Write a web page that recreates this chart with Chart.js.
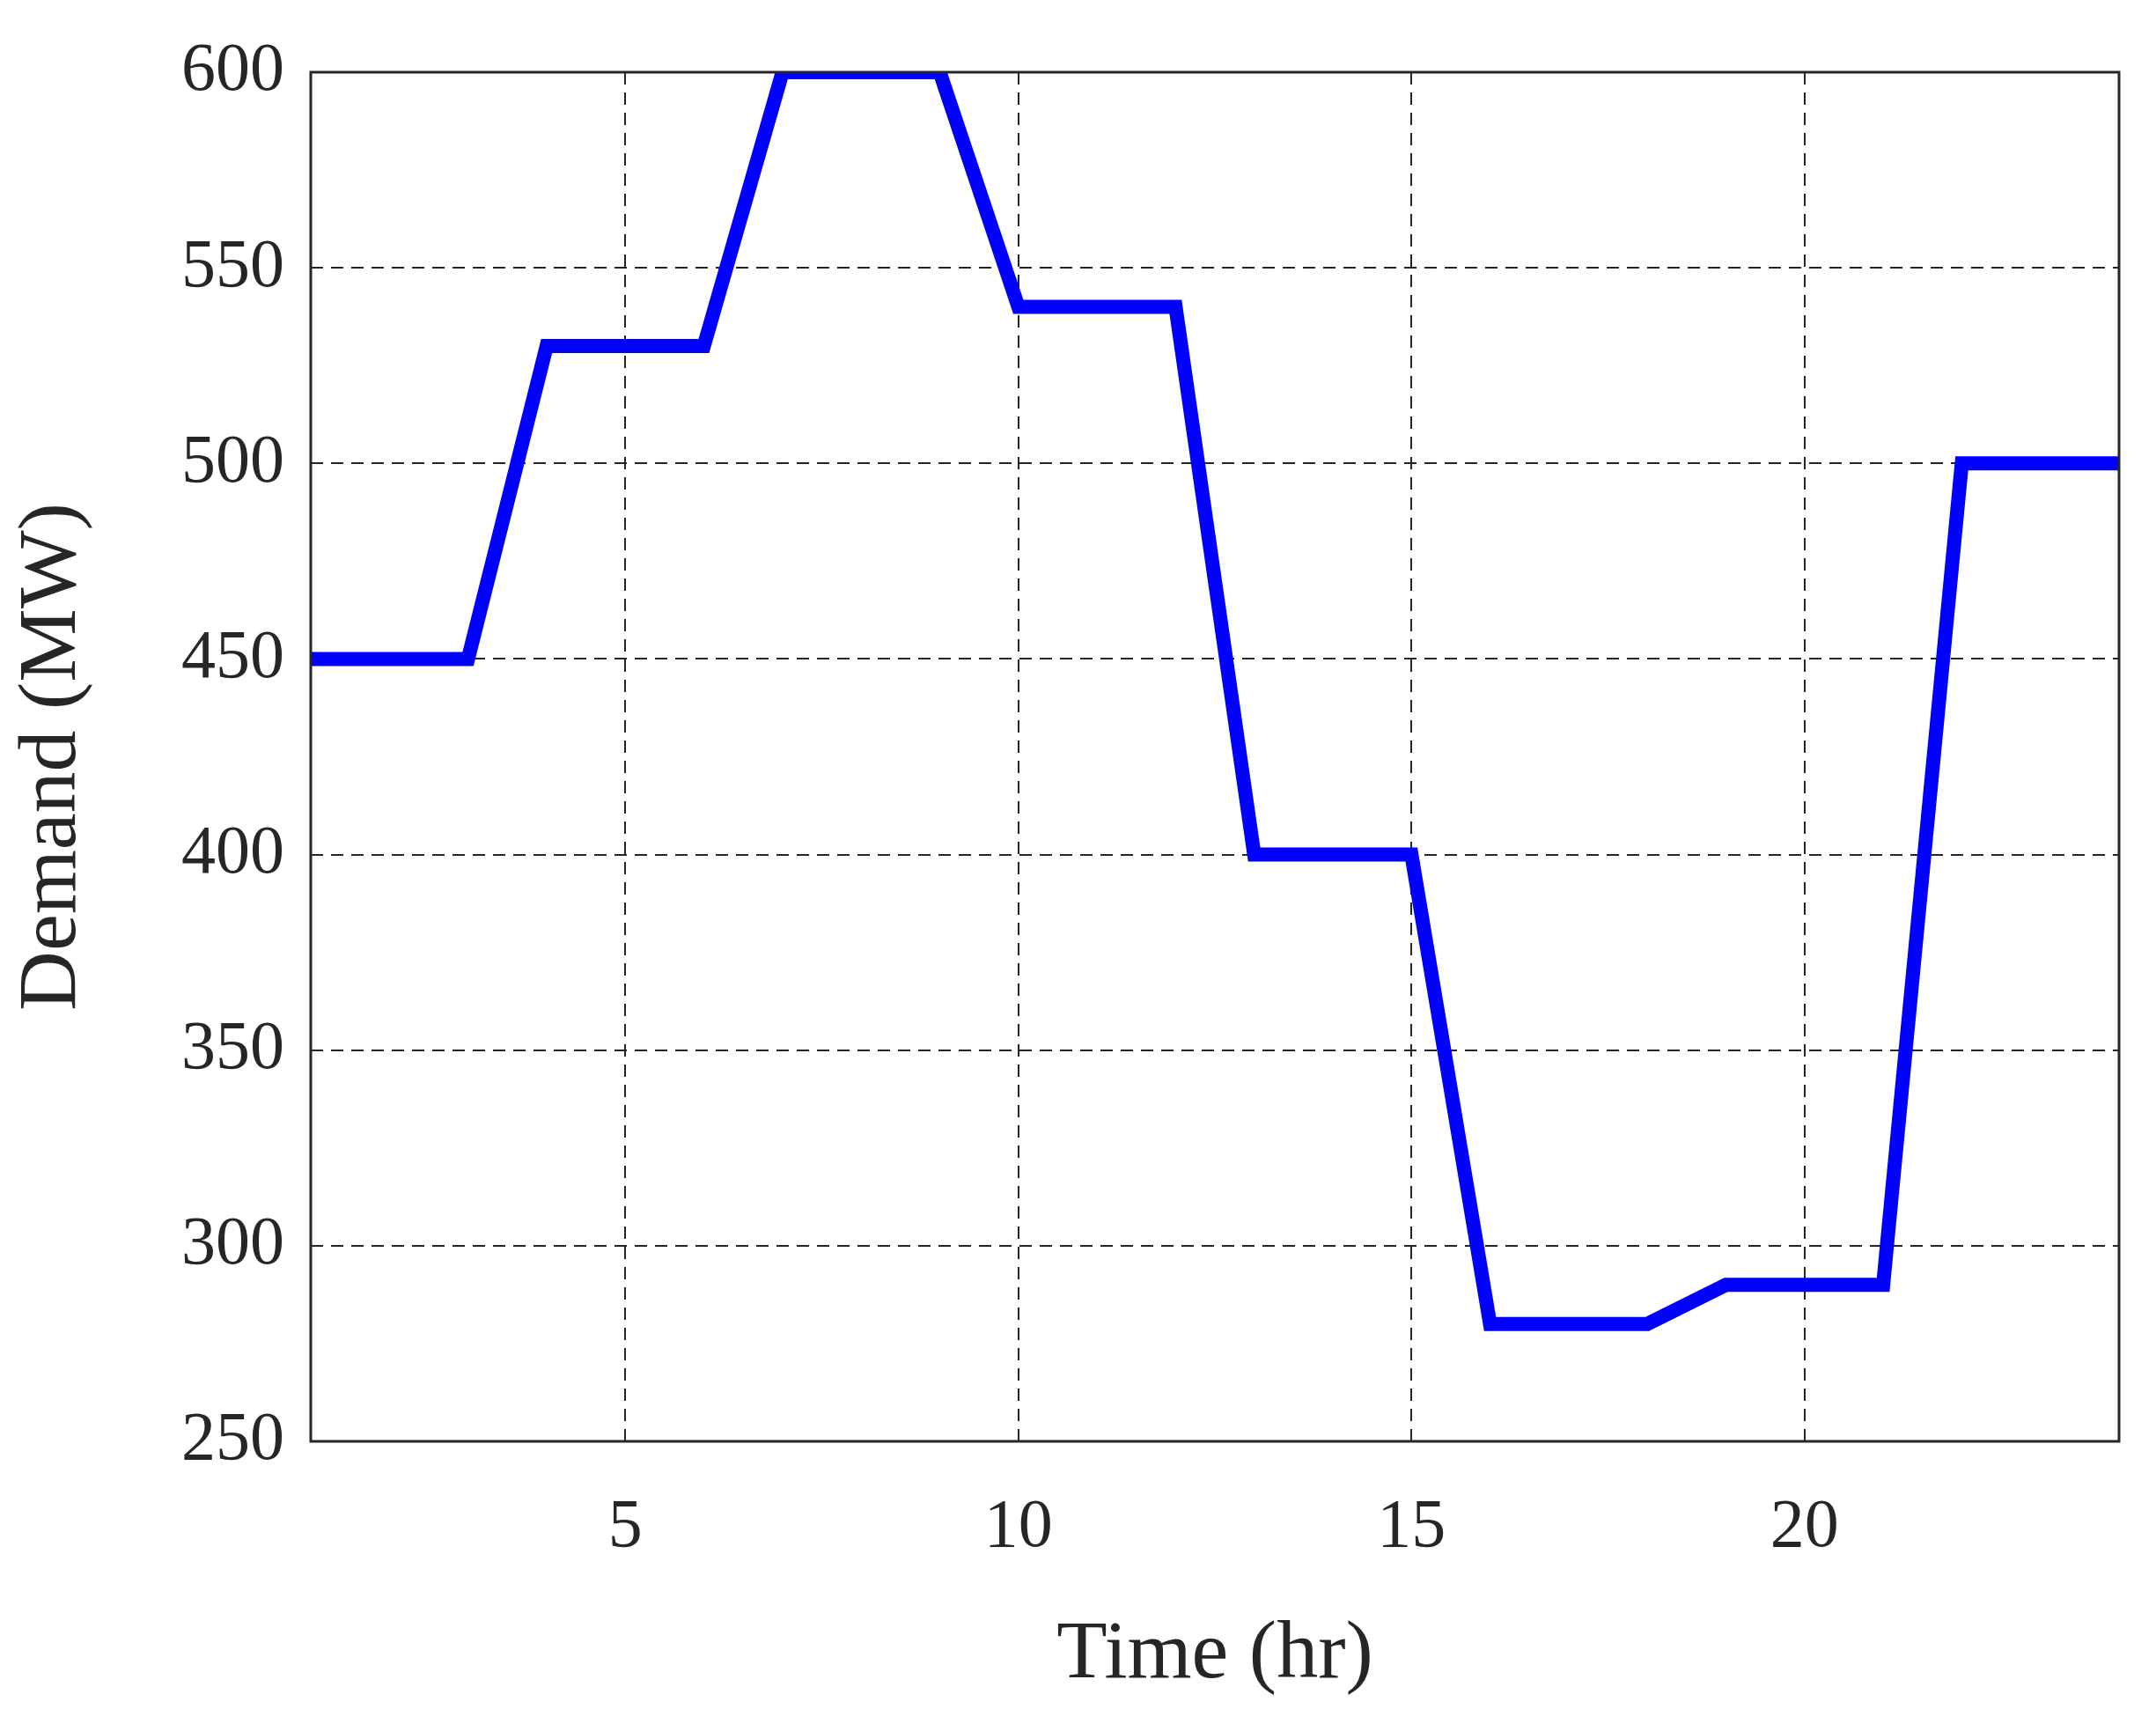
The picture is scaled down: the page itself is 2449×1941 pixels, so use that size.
<!DOCTYPE html>
<html>
<head>
<meta charset="utf-8">
<script src="https://cdn.jsdelivr.net/npm/chart.js@4/dist/chart.umd.min.js"></script>
<style>
  html, body { margin: 0; padding: 0; background: #fff; }
  #wrap { width: 2449px; height: 1941px; }
</style>
</head>
<body>
<div id="wrap"><canvas id="demandChart"></canvas></div>
<script>
// hourly demand
const hours = [1, 2, 3, 4, 5, 6, 7, 8, 9, 10, 11, 12, 13, 14, 15, 16, 17, 18, 19, 20, 21, 22, 23, 24];
const demand = [450, 450, 450, 530, 530, 530, 600, 600, 600, 540, 540, 540,
                400, 400, 400, 280, 280, 280, 290, 290, 290, 500, 500, 500];
const xTicks = [5, 10, 15, 20];

const FONT = '"Liberation Serif", "Times New Roman", serif';
const INK = '#262626';

// box around the plot area
const frame = {
    id: 'frame',
    afterDraw(chart) {
        const a = chart.chartArea, ctx = chart.ctx;
        ctx.save();
        ctx.strokeStyle = INK;
        ctx.lineWidth = 3;
        ctx.strokeRect(a.left, a.top, a.right - a.left, a.bottom - a.top);
        ctx.restore();
    }
};

new Chart(document.getElementById('demandChart'), {
    type: 'line',
    data: {
        datasets: [{
            data: hours.map((h, i) => ({ x: h, y: demand[i] })),
            borderColor: '#0000ff',
            borderWidth: 16,
            pointRadius: 0,
            tension: 0,
            borderJoinStyle: 'miter'
        }]
    },
    options: {
        responsive: true,
        maintainAspectRatio: false,
        animation: false,
        layout: { padding: { top: 82, right: 42, left: 0, bottom: 0 } },
        plugins: { legend: { display: false }, tooltip: { enabled: false } },
        scales: {
            x: {
                type: 'linear',
                min: 1,
                max: 24,
                afterBuildTicks: axis => { axis.ticks = xTicks.map(v => ({ value: v })); },
                afterFit: axis => { axis.height = 304; },
                grid: { color: INK, lineWidth: 2, drawTicks: false },
                border: { display: false, dash: [14, 9] },
                ticks: { color: INK, font: { family: FONT, size: 78 }, padding: 52, maxRotation: 0 },
                title: { display: true, text: 'Time (hr)', color: INK, font: { family: FONT, size: 94 }, padding: { top: 10 } }
            },
            y: {
                min: 250,
                max: 600,
                afterFit: axis => { axis.width = 353; },
                grid: { color: INK, lineWidth: 2, drawTicks: false },
                border: { display: false, dash: [14, 9] },
                ticks: { stepSize: 50, color: INK, font: { family: FONT, size: 78 }, padding: 30 },
                title: { display: true, text: 'Demand (MW)', color: INK, font: { family: FONT, size: 94 }, padding: { bottom: 10 } }
            }
        }
    },
    plugins: [frame]
});
</script>
</body>
</html>
